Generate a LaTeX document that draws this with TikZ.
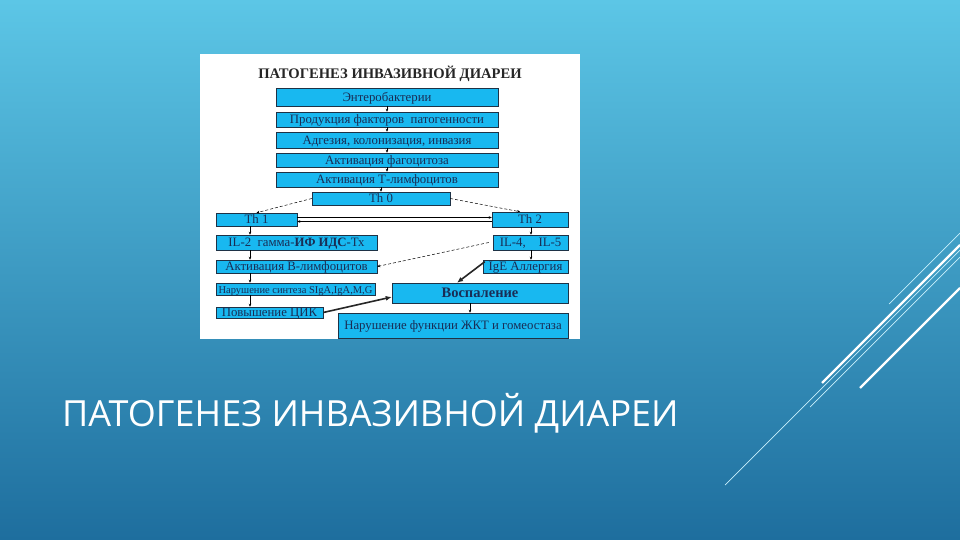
\documentclass[tikz,border=0pt]{standalone}
\usepackage{fontspec}
\setmainfont{Liberation Serif}
\newfontfamily\slidefont{Open Sans}
\usetikzlibrary{arrows.meta}
\definecolor{bgtop}{RGB}{92,198,230}
\definecolor{bgbot}{RGB}{30,110,158}
\definecolor{boxcyan}{RGB}{24,184,240}
\definecolor{boxline}{RGB}{30,50,70}
\definecolor{inktext}{RGB}{25,45,85}
\definecolor{glint}{RGB}{200,240,252}

\begin{document}
\begin{tikzpicture}[x=1pt, y=-1pt,
  blk/.style={draw=boxline, line width=0.5pt, fill=boxcyan, inner sep=0pt, text=inktext, text height=9pt, text depth=0.5pt, font=\fontsize{12.8}{12.8}\selectfont},
  thin arrow/.style={-{Stealth[length=3pt,width=2.6pt]}, line width=0.5pt, draw=black},
  dash arrow/.style={thin arrow, dash pattern=on 3pt off 2pt},
  thick arrow/.style={-{Latex[length=6pt,width=5pt]}, line width=1.6pt, draw=black!85}]

\useasboundingbox (0,0) rectangle (960,540);
\shade[top color=bgtop, bottom color=bgbot] (0,0) rectangle (960,540);

% strokes, bottom right
\draw[white, line width=2.4pt] (822,383) -- (960,245);
\draw[white, line width=2.4pt] (860,388) -- (960,288);
\draw[glint, line width=0.7pt] (889,304) -- (960,233);
\draw[glint, line width=0.7pt] (725,485) -- (960,250);
\draw[glint, line width=0.7pt] (810,407) -- (960,257);

% slide panel
\fill[white] (200,54) rectangle (580,339);
\node[font=\bfseries\fontsize{14.6}{14.6}\selectfont, text=black!85] (head) at (390,74) {ПАТОГЕНЕЗ ИНВАЗИВНОЙ ДИАРЕИ};

\node[blk, minimum width=222pt, minimum height=18pt] (entero) at (387,97)    {Энтеробактерии};
\node[blk, minimum width=222pt, minimum height=15pt] (prod)   at (387,119.5) {Продукция факторов\ \ патогенности};
\node[blk, minimum width=222pt, minimum height=16pt] (adh)    at (387,140)   {Адгезия, колонизация, инвазия};
\node[blk, minimum width=222pt, minimum height=14pt] (phago)  at (387,160)   {Активация фагоцитоза};
\node[blk, minimum width=222pt, minimum height=15pt] (tlym)   at (387,179.5) {Активация Т-лимфоцитов};
\node[blk, minimum width=138pt, minimum height=13pt] (thzero) at (381,198.5) {Th 0};

\node[blk, minimum width=81pt,  minimum height=13pt] (thone)  at (256.5,219.5) {Th 1};
\node[blk, minimum width=76pt,  minimum height=15pt] (thtwo)  at (530,219.5)   {Th 2};
\node[blk, minimum width=161pt, minimum height=15pt] (iltwo)  at (296.5,242.5) {IL-2\ \ гамма-\textbf{ИФ ИДС}-Тх};
\node[blk, minimum width=75pt,  minimum height=15pt] (ilfour) at (530.5,242.5) {IL-4,\ \ \ \ IL-5};
\node[blk, minimum width=161pt, minimum height=13pt] (blym)   at (296.5,266.5) {Активация В-лимфоцитов};
\node[blk, minimum width=85pt,  minimum height=13pt] (ige)    at (525.5,266.5) {IgE Аллергия};
\node[blk, minimum width=159pt, minimum height=12pt, font=\fontsize{10.5}{10.5}\selectfont] (sig) at (295.5,289) {Нарушение синтеза SIgA,IgA,M,G};
\node[blk, minimum width=176pt, minimum height=20pt, font=\bfseries\fontsize{14.5}{14.5}\selectfont] (infl) at (480,293) {Воспаление};
\node[blk, minimum width=107pt, minimum height=11pt] (cik)    at (269.5,312.5) {Повышение ЦИК};
\node[blk, minimum width=230pt, minimum height=25pt] (func)   at (453,325.5)   {Нарушение функции ЖКТ и гомеостаза};

\coordinate (lcol) at (250,0);
\coordinate (rcol) at (531,0);
\coordinate (mcol) at (470,0);

\draw[thin arrow] (entero) -- (prod);
\draw[thin arrow] (prod) -- (adh);
\draw[thin arrow] (adh) -- (phago);
\draw[thin arrow] (phago) -- (tlym);
\draw[thin arrow] (tlym.south -| thzero) -- (thzero.north);

\draw[dash arrow] (thzero.west) -- (thone.north);
\draw[dash arrow] (thzero.east) -- ([xshift=-10pt]thtwo.north);
\draw[thin arrow] ([yshift=2pt]thone.east) -- ([yshift=2pt]thtwo.west);
\draw[thin arrow] ([yshift=-2pt]thtwo.west) -- ([yshift=-2pt]thone.east);

\draw[thin arrow] (thone.south -| lcol) -- (iltwo.north -| lcol);
\draw[thin arrow] (iltwo.south -| lcol) -- (blym.north -| lcol);
\draw[thin arrow] (blym.south -| lcol) -- (sig.north -| lcol);
\draw[thin arrow] (sig.south -| lcol) -- (cik.north -| lcol);

\draw[thin arrow] (thtwo.south -| rcol) -- (ilfour.north -| rcol);
\draw[thin arrow] (ilfour.south -| rcol) -- (ige.north -| rcol);
\draw[dash arrow] ([xshift=-4pt]ilfour.west) -- (blym.east);

\draw[thick arrow] ([xshift=2pt,yshift=-2pt]ige.north west) -- ([xshift=-23pt]infl.north);
\draw[thick arrow] (cik.east) -- ([yshift=-4pt]infl.west);
\draw[thin arrow] (infl.south -| mcol) -- (func.north -| mcol);

\node[font=\slidefont\fontsize{36}{36}\selectfont, text=white, anchor=base west, inner sep=0pt] (title) at (62,426) {ПАТОГЕНЕЗ ИНВАЗИВНОЙ ДИАРЕИ};
\end{tikzpicture}
\end{document}
